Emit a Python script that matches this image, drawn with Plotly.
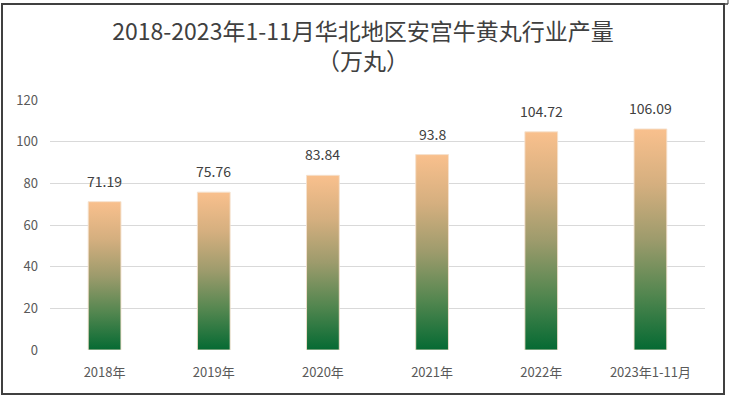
import plotly.graph_objects as go

categories = ["2018年", "2019年", "2020年", "2021年", "2022年", "2023年1-11月"]
values = [71.19, 75.76, 83.84, 93.8, 104.72, 106.09]
value_labels = ["71.19", "75.76", "83.84", "93.8", "104.72", "106.09"]
y_ticks = [0, 20, 40, 60, 80, 100, 120]

FONT = "Noto Sans CJK SC"
BAR_W = 0.30
grad = [[0.0, "#056a33"], [0.25, "#52864f"], [0.5, "#9d9b6c"], [0.75, "#d5af7f"], [1.0, "#f9c08d"]]

fig = go.Figure()
xs = list(range(len(categories)))
for i, v in zip(xs, values):
    fig.add_trace(go.Scatter(
        x=[i - BAR_W / 2, i + BAR_W / 2, i + BAR_W / 2, i - BAR_W / 2, i - BAR_W / 2],
        y=[0, 0, v, v, 0],
        mode="lines", fill="toself",
        line=dict(color="rgba(245,225,205,0.9)", width=1),
        fillgradient=dict(type="vertical", colorscale=grad),
        hoverinfo="skip", showlegend=False,
    ))

for i, v, t in zip(xs, values, value_labels):
    fig.add_annotation(x=i, y=v, text=t, showarrow=False, yanchor="bottom", yshift=9,
                       font=dict(family=FONT, size=14, color="#404040"))

fig.update_layout(
    width=730, height=398,
    margin=dict(l=50, r=25, t=100, b=48),
    paper_bgcolor="white", plot_bgcolor="white",
    title=dict(text="2018-2023年1-11月华北地区安宫牛黄丸行业产量<br>（万丸）",
               x=(363 - 50) / 655, xref="paper", xanchor="center", y=1 - 40 / 398, yanchor="top",
               font=dict(family=FONT, size=23, color="#404040")),
    xaxis=dict(range=[-0.5, len(categories) - 0.5], tickmode="array", tickvals=xs, ticktext=categories,
               showgrid=False, zeroline=False, showline=False, ticks="",
               tickfont=dict(family=FONT, size=13, color="#595959"), ticklabelstandoff=13),
    yaxis=dict(range=[0, 120], tickmode="array", tickvals=y_ticks, showgrid=True,
               gridcolor="#d9d9d9", gridwidth=1, zeroline=False, showline=False, ticks="",
               tickfont=dict(family=FONT, size=13, color="#595959"), ticklabelstandoff=11),
    showlegend=False,
)

fig.add_shape(type="rect", xref="paper", yref="paper",
              x0=(2 - 50) / 655, x1=(724 - 50) / 655, y0=(350 - 394) / 250, y1=(350 - 4) / 250,
              line=dict(color="#404040", width=2), fillcolor="rgba(0,0,0,0)", layer="above")
fig.add_shape(type="line", xref="paper", yref="paper",
              x0=(724 - 50) / 655, x1=(728 - 50) / 655, y0=(350 - 4) / 250, y1=(350 - 4) / 250,
              line=dict(color="#404040", width=1.5), layer="above")
fig.add_shape(type="line", xref="paper", yref="paper",
              x0=(728 - 50) / 655, x1=(728 - 50) / 655, y0=(350 - 4) / 250, y1=(350 + 1) / 250,
              line=dict(color="#404040", width=1), layer="above")

fig.write_html("out.html", config={"displayModeBar": False},
               post_script="document.body.style.margin='0';document.body.style.padding='0';")
